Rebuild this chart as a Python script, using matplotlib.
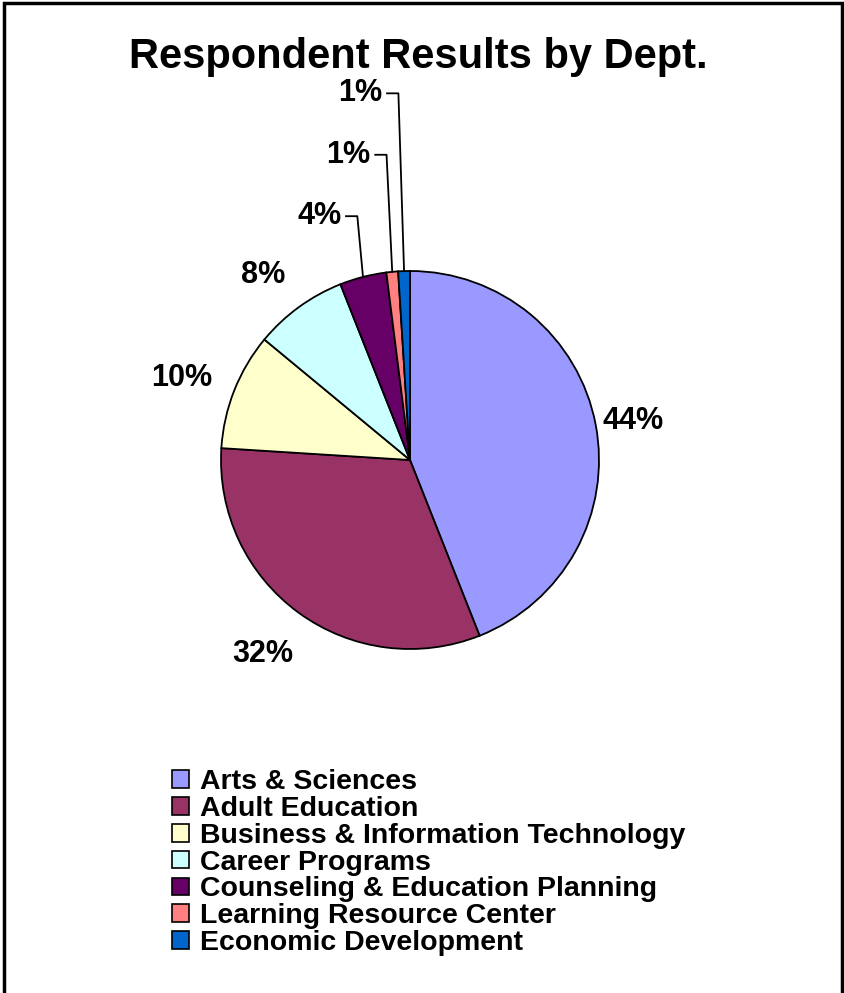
import numpy as np
import matplotlib.pyplot as plt
from matplotlib.patches import Rectangle

plt.rcParams['font.family'] = ['Liberation Sans', 'DejaVu Sans']

# departments and share of respondents (%)
departments = ["Arts & Sciences", "Adult Education",
               "Business & Information Technology", "Career Programs",
               "Counseling & Education Planning", "Learning Resource Center",
               "Economic Development"]
shares = [44, 32, 10, 8, 4, 1, 1]
colors = ["#9999FF", "#993366", "#FFFFCC", "#CCFFFF", "#660066", "#FF8080", "#0066CC"]

W, H = 844, 993
cx, cy, R = 410, 460, 189  # pie centre and radius in pixels

fig = plt.figure(figsize=(W / 100, H / 100), dpi=100)
ax = fig.add_axes([0, 0, 1, 1])

wedges, _ = ax.pie(shares, colors=colors, startangle=90, counterclock=False,
                   radius=1.0, wedgeprops=dict(edgecolor='black', linewidth=1.3))
ax.set_aspect('auto')
ax.set_xlim(-cx / R, (W - cx) / R)
ax.set_ylim(-(H - cy) / R, cy / R)
ax.axis('off')

# percent labels; small slices get lifted labels with leader lines
lifted_y = {4: 1.29, 5: 1.615, 6: 1.94}
for i, w in enumerate(wedges):
    mid = np.deg2rad((w.theta1 + w.theta2) / 2)
    px, py = np.cos(mid), np.sin(mid)
    txt = f"{shares[i]}%"
    if i in lifted_y:
        ly = lifted_y[i]
        bend_x = px - 0.03
        ax.plot([bend_x - 0.06, bend_x, px], [ly, ly, py], color='black', lw=1.3)
        ax.text(bend_x - 0.085, ly, txt, ha='right', va='center',
                fontsize=22, fontweight='bold')
    else:
        ax.text(1.25 * px - 0.045, 1.24 * py - 0.025, txt, ha='center', va='center',
                fontsize=22, fontweight='bold')

fig.text(418 / W, 1 - 57 / H, "Respondent Results by Dept.", ha='center', va='center',
         fontsize=30, fontweight='bold')

handles = [Rectangle((0, 0), 1, 1, facecolor=c, edgecolor='black', lw=1.2) for c in colors]
fig.legend(handles, departments, loc='upper left', bbox_to_anchor=(172 / W, 1 - 769 / H),
           frameon=False, prop=dict(size=20.5, weight='bold'),
           handlelength=0.58, handleheight=0.58, handletextpad=0.4, labelspacing=0.03,
           borderpad=0, borderaxespad=0)

# outer frame
fig.patches.append(Rectangle((4 / W, -0.01), (W - 6) / W, 1.01 - 3 / H,
                             transform=fig.transFigure, fill=False,
                             edgecolor='black', lw=2.5))

fig.savefig("out.png", dpi=100)
